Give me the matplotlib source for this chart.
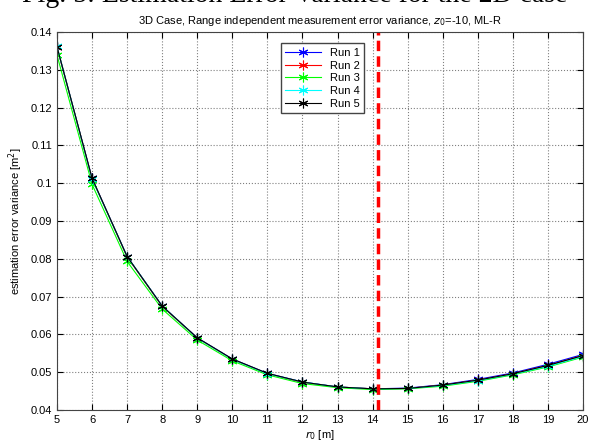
import numpy as np
import matplotlib
matplotlib.use("Agg")
import matplotlib.pyplot as plt

plt.rcParams['font.family'] = ['Liberation Sans', 'DejaVu Sans']

r0 = [5, 6, 7, 8, 9, 10, 11, 12, 13, 14, 15, 16, 17, 18, 19, 20]

run1 = [0.1360, 0.1013, 0.0806, 0.0675, 0.0591, 0.0535, 0.0497, 0.0474, 0.0461, 0.0456,
        0.0458, 0.0467, 0.0481, 0.0498, 0.0521, 0.0547]
run2 = [0.1361, 0.1012, 0.0805, 0.0674, 0.0590, 0.0534, 0.0496, 0.0473, 0.0461, 0.0456,
        0.0457, 0.0466, 0.0479, 0.0496, 0.0518, 0.0544]
run3 = [0.1339, 0.0997, 0.0793, 0.0667, 0.0585, 0.0530, 0.0493, 0.0470, 0.0459, 0.0454,
        0.0456, 0.0463, 0.0476, 0.0493, 0.0514, 0.0540]
run4 = [0.1362, 0.1011, 0.0806, 0.0675, 0.0590, 0.0534, 0.0496, 0.0474, 0.0461, 0.0456,
        0.0457, 0.0465, 0.0478, 0.0495, 0.0516, 0.0542]
run5 = [0.1361, 0.1013, 0.0806, 0.0675, 0.0591, 0.0535, 0.0497, 0.0474, 0.0461, 0.0456,
        0.0457, 0.0466, 0.0479, 0.0496, 0.0518, 0.0544]

runs = [run1, run2, run3, run4, run5]
names = ["Run 1", "Run 2", "Run 3", "Run 4", "Run 5"]
colors = ["blue", "red", "#00ff00", "cyan", "black"]

optimum = np.sqrt(200)  # dashed line

fig = plt.figure(figsize=(5.89, 4.42), dpi=100)
ax = fig.add_axes([0.0968, 0.0724, 0.893, 0.855])

# matlab style '*' marker
for y, name, c in zip(runs, names, colors):
    ax.plot(r0, y, color=c, marker=(6, 2, 0), markersize=7, markeredgewidth=0.8,
            linewidth=0.8, label=name)

ax.axvline(optimum, color='red', linestyle='--', linewidth=2.5, dashes=(3, 1.5))

ax.set_xlim(5, 20)
ax.set_ylim(0.04, 0.14)
ax.set_xticks(range(5, 21))
ax.set_yticks(np.arange(0.04, 0.141, 0.01))
ax.set_yticklabels(["0.04", "0.05", "0.06", "0.07", "0.08", "0.09", "0.1",
                    "0.11", "0.12", "0.13", "0.14"])
ax.tick_params(direction='in', labelsize=8, length=4, top=True, right=True)
ax.grid(True, linestyle=':', color='gray', linewidth=0.8)
for s in ax.spines.values():
    s.set_color('#444444')

ax.set_xlabel("$r_0$ [m]", fontsize=8, labelpad=2)
ax.set_ylabel("estimation error variance [m$^2$]", fontsize=8, labelpad=4)
ax.set_title("3D Case, Range independent measurement error variance, $z_0$=-10, ML-R",
             fontsize=8, pad=6)

leg = ax.legend(loc='upper left', bbox_to_anchor=(0.415, 0.985), fontsize=8,
                fancybox=False, framealpha=1, edgecolor='#444444',
                handlelength=3.2, labelspacing=0.25, borderpad=0.4)

# figure caption, cut off at the top edge like the source image
fig.text(0.5, 1.01, "Fig. 5: Estimation Error Variance for the 2D case",
         ha='center', va='center', fontsize=20, family='Liberation Serif')

fig.savefig("out.png", dpi=100)
